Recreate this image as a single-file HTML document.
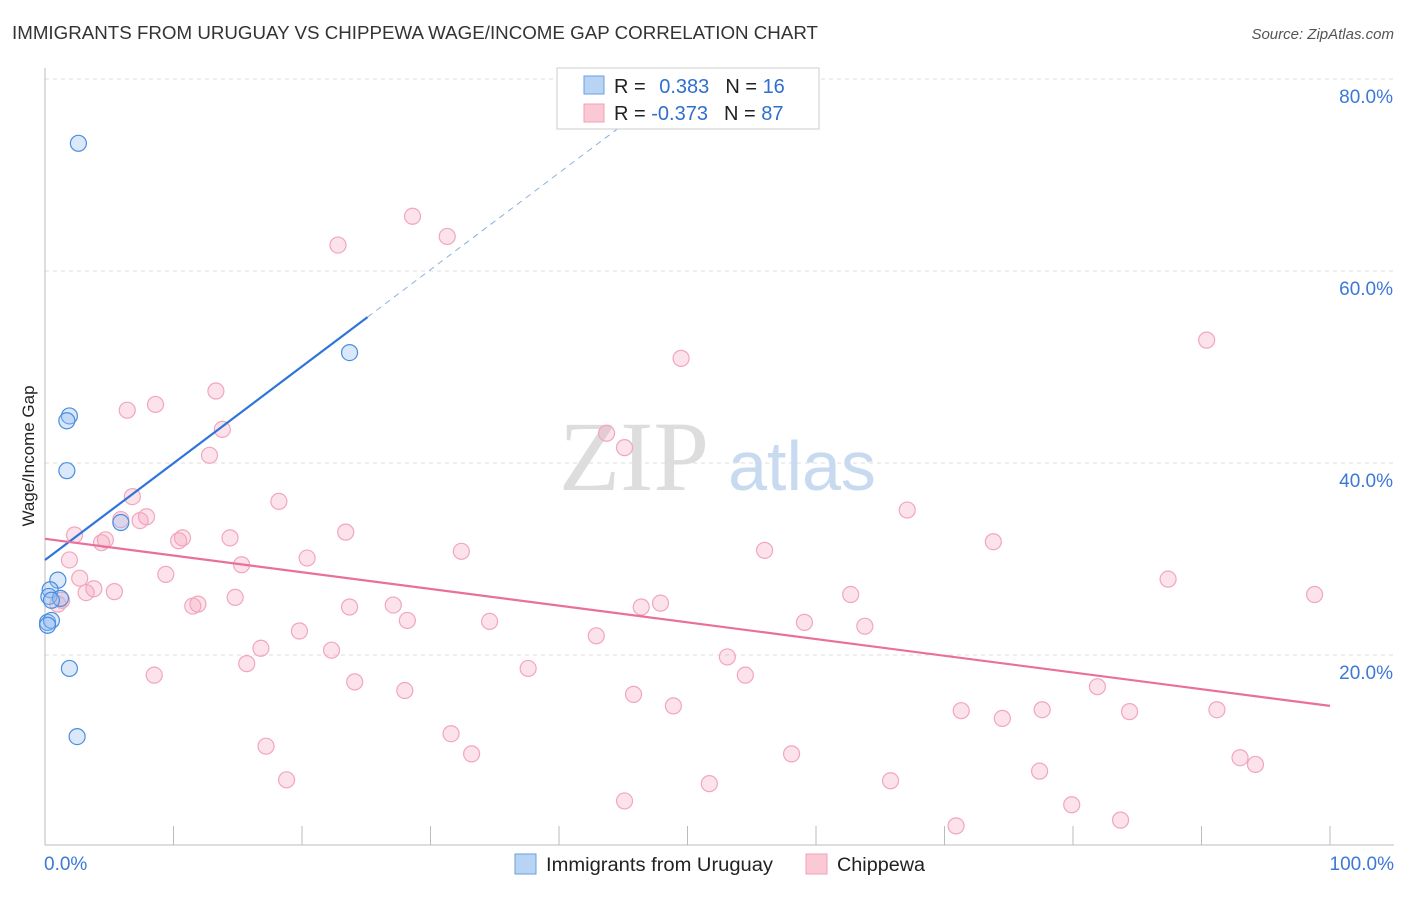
<!DOCTYPE html>
<html><head><meta charset="utf-8"><style>
body{margin:0;background:#fff;font-family:"Liberation Sans",sans-serif}
</style></head><body>
<svg width="1406" height="892" viewBox="0 0 1406 892" xmlns="http://www.w3.org/2000/svg">
<text x="12" y="39" font-size="18" fill="#333" textLength="806" lengthAdjust="spacingAndGlyphs">IMMIGRANTS FROM URUGUAY VS CHIPPEWA WAGE/INCOME GAP CORRELATION CHART</text>
<text x="1394" y="39" font-size="15" fill="#555" font-style="italic" text-anchor="end">Source: ZipAtlas.com</text>
<g id="grid"></g>
<text x="634" y="490" font-size="100" fill="#ddd" font-family="Liberation Serif,serif" text-anchor="middle">ZIP</text>
<text x="802" y="490" font-size="70" fill="#c8daf0" text-anchor="middle">atlas</text>
<g id="axes"></g>
<g id="pts"></g>
<g id="lines"></g>
<text x="34" y="456" font-size="17" fill="#222" text-anchor="middle" transform="rotate(-90 34 456)">Wage/Income Gap</text>
<g>
<rect x="557" y="68" width="262" height="61" fill="#fff" stroke="#ccc"/>
<rect x="584" y="76" width="20" height="18" fill="#b8d4f5" stroke="#6a9ee0"/>
<rect x="584" y="104" width="20" height="18" fill="#fbc8d6" stroke="#f0a0b8"/>
<text x="614" y="93" font-size="20" fill="#222">R = <tspan fill="#2f6fce" dx="8">0.383</tspan><tspan dx="16" fill="#222">N = </tspan><tspan fill="#2f6fce">16</tspan></text>
<text x="614" y="120" font-size="20" fill="#222">R = <tspan fill="#2f6fce" dx="0">-0.373</tspan><tspan dx="16" fill="#222">N = </tspan><tspan fill="#2f6fce">87</tspan></text>
</g>
<g>
<rect x="515" y="854" width="21" height="20" fill="#b8d4f5" stroke="#6a9ee0"/>
<text x="546" y="871" font-size="19" fill="#222" textLength="227" lengthAdjust="spacingAndGlyphs">Immigrants from Uruguay</text>
<rect x="806" y="854" width="21" height="20" fill="#fbc8d6" stroke="#f0a0b8"/>
<text x="837" y="871" font-size="19" fill="#222" textLength="88" lengthAdjust="spacingAndGlyphs">Chippewa</text>
</g>
</svg>
<script>
const NS="http://www.w3.org/2000/svg";
const yTicks=[20,40,60,80];
const yTickLabels=["20.0%","40.0%","60.0%","80.0%"];
const xTickLabels=["0.0%","100.0%"];
const blueX=[2.6,1.9,1.7,1.7,5.9,1.0,0.4,0.3,1.2,0.5,0.2,0.5,1.9,2.5,23.7,0.2];
const blueY=[73.3,44.9,44.4,39.2,33.8,27.8,26.8,26.1,25.9,25.7,23.4,23.6,18.6,11.5,51.5,23.1];
const pinkX=[28.6,31.3,22.8,90.4,49.5,13.3,8.6,6.4,13.8,43.7,45.1,12.8,6.8,18.2,67.1,5.9,7.9,7.4,2.3,4.7,23.4,10.7,10.4,14.4,4.4,32.4,56.0,73.8,20.4,1.9,15.3,9.4,2.7,87.4,3.8,5.4,3.2,1.3,1.0,14.8,62.7,98.8,11.9,11.5,27.1,23.7,46.4,47.9,28.2,34.6,59.1,63.8,19.8,42.9,22.3,16.8,53.1,15.7,37.6,8.5,54.5,24.1,81.9,28.0,45.8,48.9,91.2,71.3,77.6,84.4,74.5,31.6,17.2,33.2,58.1,93.0,94.2,77.4,18.8,65.8,51.7,45.1,79.9,83.7,70.9];
const pinkY=[65.7,63.6,62.7,52.8,50.9,47.5,46.1,45.5,43.5,43.1,41.6,40.8,36.5,36.0,35.1,34.1,34.4,34.0,32.5,32.0,32.8,32.2,31.9,32.2,31.7,30.8,30.9,31.8,30.1,29.9,29.4,28.4,28.0,27.9,26.9,26.6,26.5,25.7,25.3,26.0,26.3,26.3,25.3,25.1,25.2,25.0,25.0,25.4,23.6,23.5,23.4,23.0,22.5,22.0,20.5,20.7,19.8,19.1,18.6,17.9,17.9,17.2,16.7,16.3,15.9,14.7,14.3,14.2,14.3,14.1,13.4,11.8,10.5,9.7,9.7,9.3,8.6,7.9,7.0,6.9,6.6,4.8,4.4,2.8,2.2];
const blueTrend=[0,29.9,25.1,55.2];
const pinkTrend=[0,32.1,100,14.7];
const X=v=>45+v*12.85, Y=v=>847-v*9.6;
function mk(t,a,p){const e=document.createElementNS(NS,t);for(const k in a)e.setAttribute(k,a[k]);p.appendChild(e);return e;}
const grid=document.getElementById('grid');
yTicks.forEach((t,i)=>{
 const l=mk('line',{x1:45,x2:1394,y1:Y(t),y2:Y(t),stroke:'#ddd','stroke-dasharray':'4 4'},grid);
 
 
 const tx=mk('text',{x:1393,y:Y(t)+24,'font-size':19,fill:'#3b78d8','text-anchor':'end'},grid);
 tx.textContent=yTickLabels[i];
 
 
});
const ax=document.getElementById('axes');
mk('line',{x1:45,x2:45,y1:68,y2:845,stroke:'#bbb'},ax);
mk('line',{x1:45,x2:1394,y1:845,y2:845,stroke:'#bbb'},ax);
for(let i=0;i<=10;i++){const l=mk('line',{x1:X(i*10),x2:X(i*10),y1:826,y2:845,stroke:'#bbb'},ax);
 
 }
[[0,'start',44],[100,'end',1394]].forEach((d,i)=>{const t=mk('text',{x:d[2],y:870,'font-size':19,fill:'#3b78d8','text-anchor':d[1]},ax);t.textContent=xTickLabels[i];
 
 });
const pts=document.getElementById('pts');
pinkX.forEach((x,i)=>{const c=mk('circle',{cx:X(x),cy:Y(pinkY[i]),r:8,fill:'rgba(244,160,185,0.3)',stroke:'#f2a6bd','stroke-width':1.2},pts);
 
 });
blueX.forEach((x,i)=>{const c=mk('circle',{cx:X(x),cy:Y(blueY[i]),r:8,fill:'rgba(150,190,240,0.35)',stroke:'#4a8ee0','stroke-width':1.2},pts);
 
 });
const ln=document.getElementById('lines');
const bs=(blueTrend[3]-blueTrend[1])/(blueTrend[2]-blueTrend[0]);
let l=mk('line',{x1:X(blueTrend[0]),y1:Y(blueTrend[1]),x2:X(blueTrend[2]),y2:Y(blueTrend[3]),stroke:'#2f74d8','stroke-width':2.2},ln);


const xe=47;
l=mk('line',{x1:X(blueTrend[2]),y1:Y(blueTrend[3]),x2:X(xe),y2:Y(blueTrend[1]+bs*xe),stroke:'#8ab0e0','stroke-width':1,'stroke-dasharray':'6 5'},ln);


l=mk('line',{x1:X(pinkTrend[0]),y1:Y(pinkTrend[1]),x2:X(pinkTrend[2]),y2:Y(pinkTrend[3]),stroke:'#e8709a','stroke-width':2.2},ln);


</script>
</body></html>
